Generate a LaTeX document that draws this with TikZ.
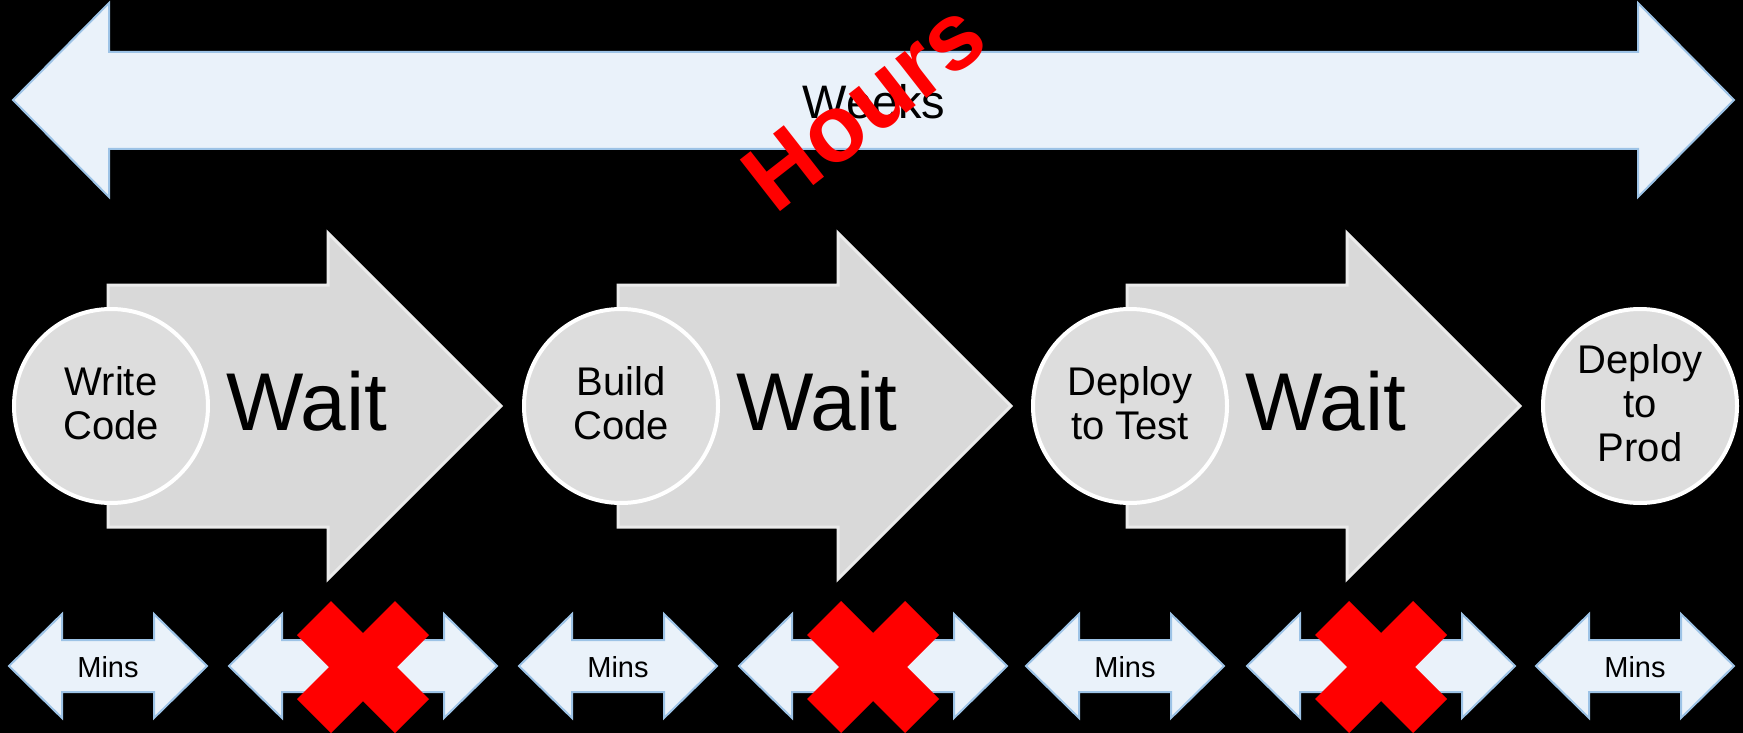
\documentclass[tikz,border=0pt]{standalone}
\usepackage{fontspec}
\setmainfont{Liberation Sans}

\definecolor{bandfill}{RGB}{234,242,250}
\definecolor{bandedge}{RGB}{157,195,230}
\definecolor{stepfill}{RGB}{217,217,217}
\definecolor{stepedge}{RGB}{235,235,235}
\definecolor{dotfill}{RGB}{221,221,221}
\definecolor{crossred}{RGB}{255,0,0}

\tikzset{
  spanarrow/.style={fill=bandfill, draw=bandedge, line width=2pt},
  waitarrow/.style={fill=stepfill, draw=stepedge, line width=3pt},
  stepcircle/.style={circle, fill=dotfill, draw=white, line width=4pt,
    minimum size=194pt, inner sep=0pt, align=center,
    font=\fontsize{40}{44}\selectfont,
    execute at end node={\rule[-6pt]{0pt}{6pt}}},
  waitlabel/.style={anchor=base, inner sep=0pt, font=\fontsize{82}{90}\selectfont},
  minslabel/.style={anchor=base, inner sep=0pt, font=\fontsize{29}{32}\selectfont},
  weekslabel/.style={anchor=base, inner sep=0pt, font=\fontsize{47}{52}\selectfont},
  hourslabel/.style={inner sep=0pt, text=crossred, font=\bfseries\fontsize{95}{100}\selectfont},
  crossmark/.style={fill=crossred},
}

\begin{document}
\begin{tikzpicture}[x=1pt, y=-1pt]
  % black page
  \fill[black] (0,0) rectangle (1743,733);
  \useasboundingbox (0,0) rectangle (1743,733);

  % long two-headed band across the top
  \draw[spanarrow] (13,100) -- (109,3) -- (109,52) -- (1638,52) -- (1638,3)
    -- (1734,100) -- (1638,197) -- (1638,149) -- (109,149) -- (109,197) -- cycle;
  \node[weekslabel] (weeks) at (874,119) {Weeks};

  % grey "Wait" arrows behind the step circles
  \foreach \cx in {111,621,1130} {
    \draw[waitarrow] (\cx-3,285) -- (\cx+217,285) -- (\cx+217,233) -- (\cx+390,406)
      -- (\cx+217,579) -- (\cx+217,527) -- (\cx-3,527) -- cycle;
  }
  \node[waitlabel] (wait1) at (307,430) {Wait};
  \node[waitlabel] (wait2) at (817,430) {Wait};
  \node[waitlabel] (wait3) at (1326,430) {Wait};

  % process steps
  \node[stepcircle] (write) at (111,406) {Write\\Code};
  \node[stepcircle] (build) at (621,406) {Build\\Code};
  \node[stepcircle] (test)  at (1130,406) {Deploy\\to Test};
  \node[stepcircle] (prod)  at (1640,406) {Deploy\\to\\Prod};

  % short "Mins" arrows under each step
  \foreach \bx/\nm in {108/a,618/b,1125/c,1635/d} {
    \draw[spanarrow] (\bx-99,666) -- (\bx-46,614) -- (\bx-46,640) -- (\bx+46,640)
      -- (\bx+46,614) -- (\bx+99,666) -- (\bx+46,718) -- (\bx+46,692)
      -- (\bx-46,692) -- (\bx-46,718) -- cycle;
    \node[minslabel] (mins\nm) at (\bx,677) {Mins};
  }

  % crossed-out arrows under each wait
  \foreach \bx in {363,873,1381} {
    \draw[spanarrow] (\bx-134,666) -- (\bx-81,614) -- (\bx-81,640) -- (\bx+81,640)
      -- (\bx+81,614) -- (\bx+134,666) -- (\bx+81,718) -- (\bx+81,692)
      -- (\bx-81,692) -- (\bx-81,718) -- cycle;
    \begin{scope}[shift={(\bx,667)}]
      \fill[crossmark] (-32,-66) -- (0,-34) -- (32,-66) -- (66,-32) -- (34,0)
        -- (66,32) -- (32,66) -- (0,34) -- (-32,66) -- (-66,32) -- (-34,0)
        -- (-66,-32) -- cycle;
    \end{scope}
  }

  % slanted overlay on the top band
  \node[hourslabel, rotate=38] (hours) at (864,106) {Hours};
\end{tikzpicture}
\end{document}
